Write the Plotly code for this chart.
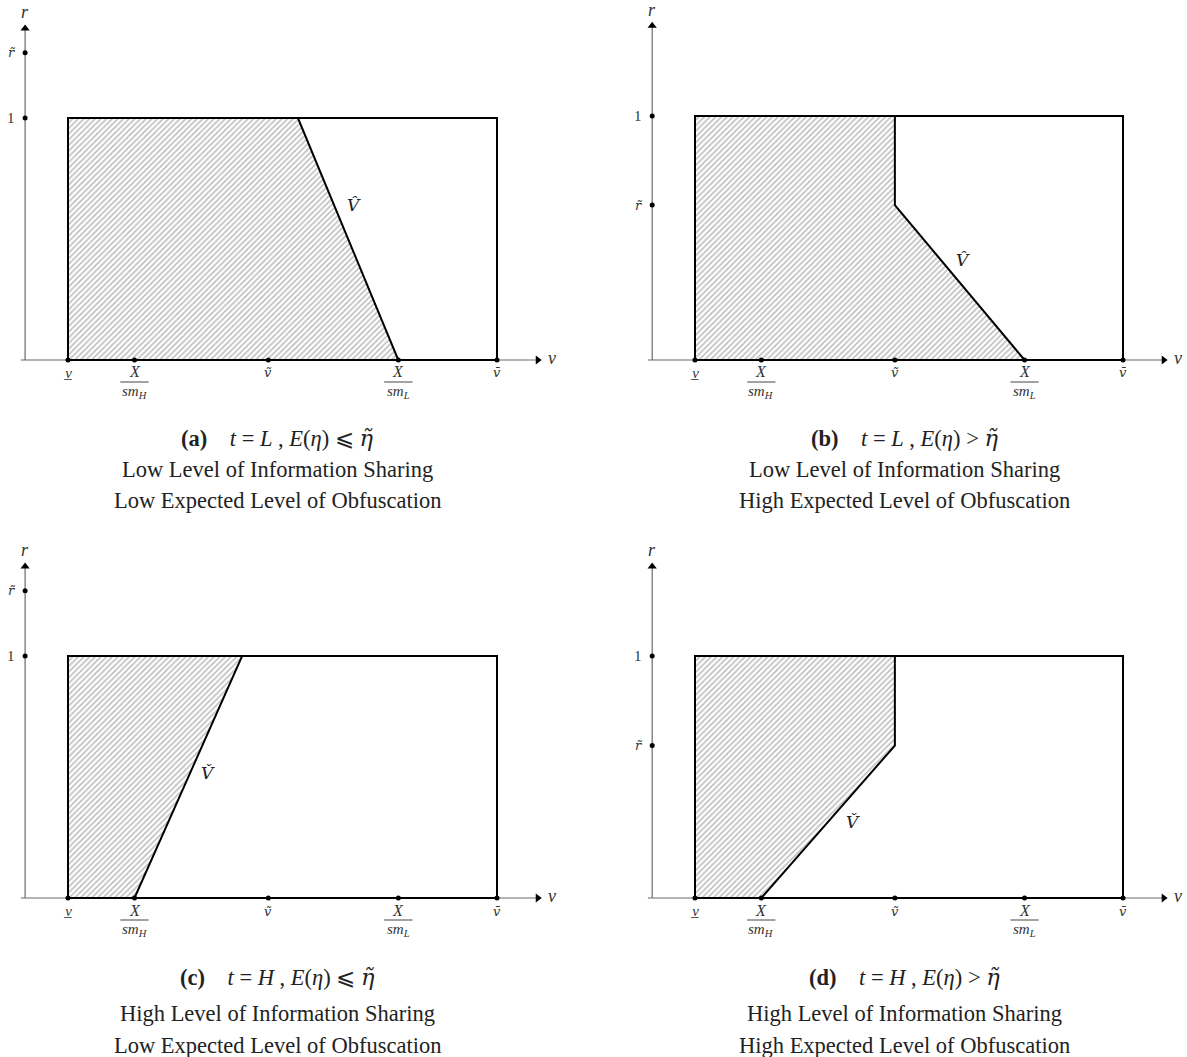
import plotly.graph_objects as go

W, H = 1187, 1057

# ---------------- data ----------------
panel_ids = ["a", "b", "c", "d"]
v_tick_vals = [0.0, 0.155, 0.467, 0.77, 1.0]          # v_, X/sm_H, v~, X/sm_L, v-bar
v_tick_kind = ["under", "fracH", "tilde", "fracL", "bar"]
r_one = 1.0
r_tilde = [1.27, 0.635, 1.27, 0.63]
rect_v = [0.0, 0.0, 1.0, 1.0]
rect_r = [0.0, 1.0, 1.0, 0.0]
region_v = [
    [0.0, 0.0, 0.536, 0.77, 0.0],
    [0.0, 0.0, 0.467, 0.467, 0.77, 0.0],
    [0.0, 0.0, 0.406, 0.155, 0.0],
    [0.0, 0.0, 0.467, 0.467, 0.155, 0.0],
]
region_r = [
    [0.0, 1.0, 1.0, 0.0, 0.0],
    [0.0, 1.0, 1.0, 0.635, 0.0, 0.0],
    [0.0, 1.0, 1.0, 0.0, 0.0],
    [0.0, 1.0, 1.0, 0.63, 0.0, 0.0],
]
frontier_text = ["V̂", "V̂", "V̌", "V̌"]
frontier_v = [0.667, 0.626, 0.326, 0.369]
frontier_r = [0.64, 0.41, 0.517, 0.314]

DJ = '<span style="font-family:DejaVu Serif">'
ETA_T = DJ + '<i>η̃</i></span>'
caption_head = [
    "<b>(a)</b>    <i>t</i> = <i>L</i> , <i>E</i>(<i>η</i>) ⩽ " + ETA_T,
    "<b>(b)</b>    <i>t</i> = <i>L</i> , <i>E</i>(<i>η</i>) > " + ETA_T,
    "<b>(c)</b>    <i>t</i> = <i>H</i> , <i>E</i>(<i>η</i>) ⩽ " + ETA_T,
    "<b>(d)</b>    <i>t</i> = <i>H</i> , <i>E</i>(<i>η</i>) > " + ETA_T,
]
caption_l2 = ["Low Level of Information Sharing", "Low Level of Information Sharing",
              "High Level of Information Sharing", "High Level of Information Sharing"]
caption_l3 = ["Low Expected Level of Obfuscation", "High Expected Level of Obfuscation",
              "Low Expected Level of Obfuscation", "High Expected Level of Obfuscation"]

# ---------------- layout constants ----------------
# pixel origin (v=0, r=0) and pixel scale per unit for each panel
origins = [(68, 360, 429, 242), (695, 360, 428, 244), (68, 898, 429, 242), (695, 898, 428, 242)]
caption_y = [(438, 469, 500), (438, 469, 500), (977, 1013, 1045), (977, 1013, 1045)]
XR = [-0.15, 1.14]
YR = [-0.1, 1.46]
AX_X = -0.10      # y-axis position
AX_X0 = -0.11     # x-axis start
AX_XEND = 1.095   # x-axis arrow
AX_YEND = 1.37    # y-axis arrow
SERIF = "Liberation Serif"
DJSERIF = "DejaVu Serif"
AXCOL = "#6a6a6a"

fig = go.Figure()
annotations = []
shapes = []
layout_axes = {}

for i, pid in enumerate(panel_ids):
    n = "" if i == 0 else str(i + 1)
    xa, ya = "x" + n, "y" + n
    px, py, sx, sy = origins[i]
    xd = [(px + XR[0] * sx) / W, (px + XR[1] * sx) / W]
    yd = [1 - (py - YR[0] * sy) / H, 1 - (py - YR[1] * sy) / H]
    layout_axes["xaxis" + n] = dict(domain=xd, range=XR, visible=False, fixedrange=True, anchor=ya)
    layout_axes["yaxis" + n] = dict(domain=yd, range=YR, visible=False, fixedrange=True, anchor=xa)

    # axes lines
    fig.add_trace(go.Scatter(x=[AX_X0, AX_XEND], y=[0, 0], mode="lines",
                             line=dict(color=AXCOL, width=1.2), xaxis=xa, yaxis=ya,
                             showlegend=False, hoverinfo="skip"))
    fig.add_trace(go.Scatter(x=[AX_X, AX_X], y=[0, AX_YEND], mode="lines",
                             line=dict(color=AXCOL, width=1.2), xaxis=xa, yaxis=ya,
                             showlegend=False, hoverinfo="skip"))
    fig.add_trace(go.Scatter(x=[AX_XEND], y=[0], mode="markers",
                             marker=dict(symbol="triangle-right", size=8, color="black"),
                             xaxis=xa, yaxis=ya, showlegend=False, hoverinfo="skip"))
    fig.add_trace(go.Scatter(x=[AX_X], y=[AX_YEND], mode="markers",
                             marker=dict(symbol="triangle-up", size=8, color="black"),
                             xaxis=xa, yaxis=ya, showlegend=False, hoverinfo="skip"))

    # shaded region
    fig.add_trace(go.Scatter(x=region_v[i], y=region_r[i], mode="lines", fill="toself",
                             fillcolor="white",
                             fillpattern=dict(shape="/", size=4, solidity=0.38,
                                              fgcolor="#7a7a7a", bgcolor="white"),
                             line=dict(color="black", width=2),
                             xaxis=xa, yaxis=ya, showlegend=False, hoverinfo="skip"))
    # rectangle
    fig.add_trace(go.Scatter(x=rect_v + [rect_v[0]], y=rect_r + [rect_r[0]], mode="lines",
                             line=dict(color="black", width=2),
                             xaxis=xa, yaxis=ya, showlegend=False, hoverinfo="skip"))

    # tick dots
    fig.add_trace(go.Scatter(x=v_tick_vals, y=[0] * len(v_tick_vals), mode="markers",
                             marker=dict(size=5, color="black"),
                             xaxis=xa, yaxis=ya, showlegend=False, hoverinfo="skip"))
    fig.add_trace(go.Scatter(x=[AX_X, AX_X], y=[r_one, r_tilde[i]], mode="markers",
                             marker=dict(size=5, color="black"),
                             xaxis=xa, yaxis=ya, showlegend=False, hoverinfo="skip"))

    tf = dict(family=SERIF, size=16, color="#333")
    for v, kind in zip(v_tick_vals, v_tick_kind):
        if kind in ("fracH", "fracL"):
            sub = "H" if kind == "fracH" else "L"
            annotations.append(dict(x=v, y=0, xref=xa, yref=ya, text="<i>X</i>", showarrow=False,
                                    yshift=-12, font=tf))
            annotations.append(dict(x=v, y=0, xref=xa, yref=ya,
                                    text="<i>sm<sub>" + sub + "</sub></i>", showarrow=False,
                                    yshift=-32, font=dict(family=SERIF, size=15, color="#333")))
            shapes.append(dict(type="line", xref=xa, yref=ya, x0=v - 0.033, x1=v + 0.033,
                               ysizemode="pixel", yanchor=0, y0=-22, y1=-22,
                               line=dict(color="#444", width=1)))
        elif kind == "under":
            annotations.append(dict(x=v, y=0, xref=xa, yref=ya, text="<i>v̲</i>", showarrow=False,
                                    yshift=-13, font=dict(family=SERIF, size=15, color="#333")))
        else:
            txt = {"tilde": "<i>ṽ</i>", "bar": "<i>v̄</i>"}[kind]
            annotations.append(dict(x=v, y=0, xref=xa, yref=ya, text=txt, showarrow=False,
                                    yshift=-13, font=dict(family=DJSERIF, size=13, color="#333")))
    annotations.append(dict(x=AX_X, y=r_one, xref=xa, yref=ya, text="1", showarrow=False,
                            xshift=-14, font=dict(family=SERIF, size=15, color="#333")))
    annotations.append(dict(x=AX_X, y=r_tilde[i], xref=xa, yref=ya, text="<i>r̃</i>",
                            showarrow=False, xshift=-13, font=dict(family=DJSERIF, size=13, color="#333")))
    annotations.append(dict(x=AX_X, y=AX_YEND, xref=xa, yref=ya, text="<i>r</i>",
                            showarrow=False, yshift=16, font=dict(family=SERIF, size=18, color="#333")))
    annotations.append(dict(x=AX_XEND, y=0, xref=xa, yref=ya, text="<i>v</i>",
                            showarrow=False, xshift=14, yshift=2,
                            font=dict(family=SERIF, size=18, color="#333")))
    annotations.append(dict(x=frontier_v[i], y=frontier_r[i], xref=xa, yref=ya,
                            text="<i>" + frontier_text[i] + "</i>", showarrow=False,
                            font=dict(family=DJSERIF, size=17, color="#222")))

    cx = (px + 209) / W
    for txt, yy in zip([caption_head[i], caption_l2[i], caption_l3[i]], caption_y[i]):
        annotations.append(dict(x=cx, y=1 - yy / H, xref="paper", yref="paper", text=txt,
                                showarrow=False, xanchor="center", yanchor="middle",
                                font=dict(family=SERIF, size=22.5, color="#222")))

fig.update_layout(width=W, height=H, margin=dict(l=0, r=0, t=0, b=0),
                  paper_bgcolor="white", plot_bgcolor="white",
                  annotations=annotations, shapes=shapes, showlegend=False, **layout_axes)

fig.write_html("out.html", config={"displayModeBar": False},
               post_script="document.body.style.margin='0px';document.body.style.overflow='hidden';")
